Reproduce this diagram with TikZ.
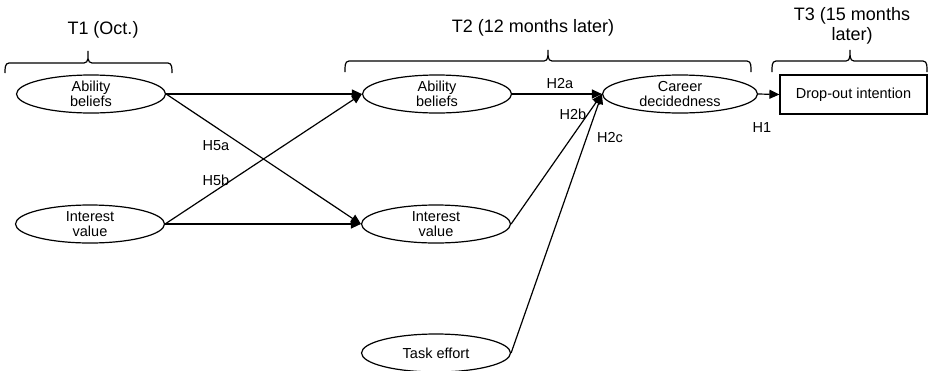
\documentclass[tikz,border=0pt]{standalone}
\usepackage{fontspec}
\setmainfont{Liberation Sans}
\usetikzlibrary{shapes.geometric,arrows.meta}
\begin{document}
\begin{tikzpicture}[x=1pt,y=-1pt,
  var/.style={ellipse, draw, line width=1.2pt, minimum width=149pt, minimum height=38pt, inner sep=0pt, align=center, font=\fontsize{14.5}{15}\selectfont},
  path/.style={line width=1.2pt, -{Triangle[length=10pt,width=9pt]}},
  lbl/.style={font=\fontsize{14.5}{15}\selectfont, inner sep=0pt},
  wave/.style={font=\fontsize{18}{20}\selectfont, align=center, inner sep=0pt},
  brace/.style={line width=1.2pt}]
\useasboundingbox (0,0) rectangle (928,370);

% variables
\node[var] (ab1) at (91,94) {Ability\\beliefs};
\node[var] (iv1) at (90,224) {Interest\\value};
\node[var] (ab2) at (437,94) {Ability\\beliefs};
\node[var] (iv2) at (436,224) {Interest\\value};
\node[var] (te2) at (436,353) {Task effort};
\node[var, minimum width=155pt] (cd2) at (680,94) {Career\\decidedness};
\node[draw, line width=1.2pt, minimum width=147pt, minimum height=39pt, inner sep=0pt, font=\fontsize{14.5}{15}\selectfont] (drop3) at (853.5,94.5) {Drop-out intention};

% waves
\node[wave] (t1) at (103,30) {T1 (Oct.)};
\node[wave] (t2) at (533,28) {T2 (12 months later)};
\node[wave] (t3) at (852,26) {T3 (15 months\\later)};

\draw[brace] (5,73) to[out=90,in=180] (9,63) -- (84,63) to[out=0,in=-90] (88,51) to[out=-90,in=180] (92,63) -- (168,63) to[out=0,in=90] (172,73);
\draw[brace] (345,72) to[out=90,in=180] (349,61) -- (544,61) to[out=0,in=-90] (548,50) to[out=-90,in=180] (552,61) -- (747,61) to[out=0,in=90] (751,72);
\draw[brace] (772,72) to[out=90,in=180] (776,61) -- (846,61) to[out=0,in=-90] (850,50) to[out=-90,in=180] (854,61) -- (923,61) to[out=0,in=90] (927,72);

% paths
\draw[path] (ab1.east) -- (ab2.west);
\draw[path] (ab1.east) -- (iv2.west);
\draw[path] (iv1.east) -- (iv2.west);
\draw[path] (iv1.east) -- (ab2.west);
\draw[path] (ab2.east) -- (cd2.west);
\draw[path] (iv2.east) -- (cd2.west);
\draw[path] (te2.east) -- (cd2.west);
\draw[path] (cd2.east) -- (drop3.west);

% hypotheses
\node[lbl] (h5a) at (216,146) {H5a};
\node[lbl] (h5b) at (216,180) {H5b};
\node[lbl] (h2a) at (560,84) {H2a};
\node[lbl] (h2b) at (573,114) {H2b};
\node[lbl] (h2c) at (610,138) {H2c};
\node[lbl] (h1) at (762,128) {H1};
\end{tikzpicture}
\end{document}
